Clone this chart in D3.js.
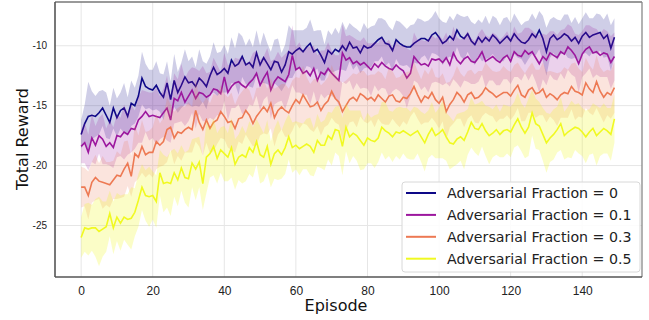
<!DOCTYPE html>
<html>
<head>
<meta charset="utf-8">
<script src="https://cdnjs.cloudflare.com/ajax/libs/d3/7.8.5/d3.min.js"></script>
<style>
  body { margin: 0; background: #fff; }
  svg { display: block; }
</style>
</head>
<body>
<div class="chart"></div>
<script>
// legend labels / fractions
const fractions = ["0", "0.1", "0.3", "0.5"];
const colors = ["#0d0887", "#9c179e", "#ed7953", "#f0f921"];
const xTicks = [0, 20, 40, 60, 80, 100, 120, 140];
const yTicks = [-25, -20, -15, -10];

// mean reward per episode (0..149) for each adversarial fraction
const mean0 = [
  -17.4,-16.5,-15.9,-15.8,-15.9,-15.6,-15.2,-15.8,-16.4,-15.2,
  -16.0,-15.4,-15.2,-15.9,-14.8,-15.0,-14.2,-12.7,-13.4,-13.6,
  -13.7,-13.3,-13.9,-14.3,-13.1,-14.5,-12.9,-13.9,-13.3,-12.6,
  -13.1,-13.0,-13.4,-12.7,-13.0,-13.4,-12.5,-11.8,-12.4,-12.2,
  -11.9,-12.3,-11.2,-11.7,-11.5,-10.9,-11.6,-11.4,-11.8,-10.6,
  -11.6,-11.0,-11.5,-12.0,-11.3,-11.4,-12.2,-11.6,-10.5,-10.7,
  -10.4,-10.2,-10.5,-10.1,-9.8,-10.5,-10.3,-10.8,-11.4,-10.4,
  -10.7,-10.3,-10.5,-10.0,-10.4,-9.7,-10.2,-10.1,-10.6,-10.0,
  -10.2,-10.1,-9.8,-9.5,-9.3,-9.8,-9.9,-10.4,-9.5,-9.8,
  -10.0,-10.1,-10.1,-9.8,-9.6,-9.4,-9.4,-9.6,-9.1,-8.9,
  -9.3,-9.8,-9.6,-9.2,-9.5,-8.7,-9.2,-9.4,-9.0,-9.6,
  -9.9,-9.3,-9.7,-9.3,-9.6,-9.1,-9.4,-9.8,-9.5,-9.2,
  -9.6,-9.0,-9.4,-9.7,-9.8,-9.5,-9.0,-9.3,-8.7,-9.4,
  -10.5,-9.4,-9.1,-9.5,-9.3,-9.0,-9.2,-9.6,-9.3,-9.8,
  -9.2,-8.9,-9.3,-9.1,-9.0,-8.9,-9.4,-9.1,-10.2,-9.3
];
const mean1 = [
  -18.4,-18.1,-18.9,-17.7,-18.3,-17.5,-17.8,-18.4,-18.1,-18.5,
  -17.5,-17.6,-17.2,-17.4,-16.9,-17.0,-16.2,-15.9,-15.5,-15.9,
  -15.8,-15.9,-16.0,-15.6,-15.2,-16.2,-14.4,-14.6,-13.9,-14.7,
  -14.2,-13.7,-14.4,-13.9,-14.0,-14.3,-14.1,-13.6,-13.7,-14.0,
  -12.6,-13.9,-13.4,-13.1,-13.0,-13.3,-13.5,-13.1,-12.8,-12.3,
  -13.3,-12.7,-12.2,-13.7,-13.0,-12.6,-12.8,-13.0,-12.4,-10.8,
  -12.0,-11.8,-12.3,-12.1,-12.5,-11.9,-12.9,-12.2,-12.4,-11.9,
  -12.3,-12.6,-12.9,-10.6,-11.2,-11.0,-11.5,-11.3,-11.6,-11.4,
  -11.7,-12.0,-11.5,-11.8,-11.4,-11.7,-11.9,-12.0,-11.6,-11.9,
  -12.1,-12.7,-12.3,-10.9,-11.3,-11.6,-11.5,-11.7,-11.1,-11.2,
  -11.1,-11.4,-11.0,-11.6,-10.6,-11.2,-11.5,-11.1,-10.9,-11.3,
  -11.4,-11.0,-10.5,-11.3,-11.1,-10.9,-11.2,-11.4,-11.0,-10.8,
  -11.3,-10.5,-10.8,-10.9,-10.4,-10.7,-10.5,-11.0,-11.5,-10.9,
  -11.2,-10.6,-10.8,-11.0,-10.5,-10.7,-10.1,-10.4,-10.8,-11.5,
  -10.7,-10.3,-10.1,-10.6,-10.5,-10.8,-10.6,-10.7,-11.4,-10.9
];
const mean3 = [
  -21.8,-21.8,-22.5,-21.4,-21.0,-21.3,-21.4,-21.5,-21.6,-21.2,
  -20.8,-20.9,-20.3,-19.8,-20.9,-19.0,-19.3,-18.4,-19.1,-18.9,
  -18.9,-18.0,-18.3,-18.0,-17.0,-16.8,-17.7,-17.2,-17.3,-17.0,
  -16.8,-17.0,-15.4,-16.4,-17.0,-16.2,-16.9,-16.4,-16.2,-15.5,
  -15.9,-16.4,-16.3,-16.9,-16.1,-16.0,-15.4,-15.8,-16.5,-15.9,
  -15.5,-15.1,-15.5,-14.8,-16.0,-15.4,-15.1,-15.4,-15.6,-15.0,
  -14.5,-14.8,-14.1,-14.6,-15.1,-15.0,-14.7,-15.4,-14.9,-14.6,
  -13.8,-14.4,-14.7,-15.5,-15.0,-14.5,-14.3,-14.6,-14.0,-14.2,
  -14.5,-14.3,-14.6,-14.1,-14.4,-14.7,-14.2,-14.1,-14.6,-14.7,
  -14.3,-14.4,-14.0,-13.4,-14.1,-14.7,-14.2,-14.4,-13.9,-14.5,
  -14.8,-14.3,-15.5,-14.9,-14.5,-13.9,-14.2,-14.7,-14.1,-13.9,
  -14.4,-14.3,-14.0,-13.5,-13.8,-14.0,-14.3,-14.1,-13.9,-13.9,
  -14.2,-13.7,-13.3,-14.1,-14.3,-13.7,-13.5,-14.0,-13.9,-13.6,
  -14.3,-14.0,-14.2,-14.5,-14.1,-13.9,-14.0,-13.4,-13.8,-13.9,
  -14.1,-13.1,-13.6,-13.9,-13.0,-13.8,-14.3,-13.9,-14.1,-13.5
];
const mean5 = [
  -26.0,-25.2,-25.3,-25.2,-25.2,-25.5,-25.3,-25.1,-24.0,-25.2,
  -24.3,-24.8,-24.3,-24.5,-24.4,-23.9,-22.9,-21.8,-22.5,-22.6,
  -22.5,-23.0,-20.6,-21.5,-21.4,-21.5,-20.6,-21.2,-20.2,-21.0,
  -21.1,-19.8,-20.3,-19.7,-21.5,-19.3,-19.0,-18.4,-19.4,-18.7,
  -19.0,-19.3,-18.5,-19.9,-19.3,-19.1,-19.3,-18.5,-18.9,-18.0,
  -19.1,-19.3,-18.4,-19.9,-19.0,-18.7,-19.1,-18.5,-17.6,-18.5,
  -18.3,-18.6,-18.4,-18.2,-18.4,-18.9,-17.9,-18.3,-18.3,-17.5,
  -17.8,-17.0,-17.1,-18.4,-16.8,-17.6,-17.3,-17.5,-17.9,-18.3,
  -17.7,-17.9,-18.0,-17.7,-16.8,-17.1,-17.3,-17.6,-17.2,-17.3,
  -17.1,-17.3,-17.5,-17.3,-17.1,-17.6,-18.1,-17.4,-16.9,-17.5,
  -17.3,-17.0,-17.6,-18.1,-18.2,-17.8,-17.6,-17.9,-17.2,-16.4,
  -16.9,-17.0,-16.5,-17.1,-17.5,-17.3,-17.0,-17.4,-17.1,-17.0,
  -17.2,-16.6,-16.1,-16.8,-17.3,-16.8,-15.6,-16.5,-16.7,-17.4,
  -18.1,-17.7,-17.4,-17.0,-16.5,-17.5,-17.2,-17.0,-16.8,-16.9,
  -17.2,-17.6,-17.2,-16.9,-17.5,-17.2,-16.9,-17.1,-17.4,-16.1
];

// spread (std) per episode, shaded as mean +/- std
const std0 = [
  1.2,1.6,2.9,2.0,1.7,1.8,1.5,1.9,1.4,1.7, 1.6,1.5,2.1,1.6,1.9,1.5,1.7,2.2,1.9,1.6,
  1.7,2.0,1.6,1.9,1.8,1.5,2.2,1.7,1.9,2.3, 1.8,2.1,1.6,2.4,1.7,1.9,1.6,2.1,1.8,1.7,
  2.0,1.6,1.9,1.5,2.6,1.7,1.6,2.0,1.7,1.9, 1.6,2.1,1.7,1.5,1.8,2.0,1.6,1.7,2.2,2.0,
  1.7,1.5,1.8,1.6,2.0,1.7,1.6,2.1,1.5,1.7, 1.6,1.8,1.5,2.0,1.7,1.6,1.8,1.5,1.7,1.9,
  1.6,1.7,1.5,1.8,1.6,1.9,1.5,1.7,1.6,1.8, 1.7,1.5,1.8,1.6,1.9,1.6,1.4,1.7,1.5,1.8,
  1.6,1.8,1.5,1.7,1.6,1.4,1.7,1.8,1.5,1.6, 1.7,1.5,1.6,1.8,1.4,1.6,1.7,1.5,1.8,1.6,
  1.5,1.7,1.6,1.4,1.8,1.6,1.7,1.5,1.6,1.9, 2.0,1.6,1.5,1.7,1.4,1.6,1.8,1.5,1.7,1.6,
  1.5,1.7,1.6,1.4,1.7,1.5,1.6,1.8,1.9,1.6
];
const std1 = [
  1.4,1.7,1.5,2.0,1.6,1.5,2.1,1.5,1.9,1.7, 1.8,1.6,2.3,1.7,2.0,1.6,1.9,2.2,1.7,2.0,
  1.9,2.4,1.8,2.0,2.7,1.9,2.1,1.8,2.4,2.0, 2.1,1.9,2.5,1.8,2.3,2.0,1.9,2.6,2.1,1.8,
  2.0,2.3,1.8,2.1,1.9,2.4,2.0,1.8,2.2,1.9, 2.1,1.8,2.0,2.4,1.9,2.1,1.8,2.3,2.0,2.5,
  1.9,2.1,1.8,2.0,2.4,1.9,2.1,1.8,2.0,2.2, 1.9,1.8,2.1,2.4,2.0,1.9,2.2,1.8,2.0,2.1,
  1.9,2.2,1.8,2.0,2.1,1.9,2.4,1.8,2.0,1.9, 2.1,2.5,1.9,2.0,1.8,2.1,1.9,2.2,2.0,1.8,
  2.0,1.9,2.1,1.8,2.2,1.9,2.0,1.8,2.1,1.9, 1.8,2.0,1.9,2.2,1.8,2.0,2.1,1.9,1.8,2.0,
  1.9,2.1,1.8,2.0,1.9,2.2,1.8,2.0,2.4,1.9, 2.1,1.8,2.0,1.9,1.8,2.1,1.9,2.0,1.8,2.4,
  1.9,2.0,1.8,2.1,1.9,1.8,2.0,1.9,2.2,2.0
];
const std3 = [
  1.7,1.6,2.0,1.7,1.9,1.5,2.2,1.8,1.9,1.6, 2.0,1.8,2.3,1.9,1.7,2.4,1.8,2.2,1.9,1.8,
  2.1,2.3,1.8,2.0,2.7,1.9,2.2,2.0,2.3,1.9, 2.1,1.9,2.6,2.0,2.2,1.9,2.1,2.4,2.0,2.2,
  1.9,2.1,2.4,2.0,1.9,2.2,2.0,2.1,1.9,2.4, 2.0,2.2,1.9,2.1,2.4,2.0,1.9,2.2,2.0,2.1,
  1.9,2.1,2.4,2.0,1.9,2.2,2.0,2.1,1.9,2.0, 2.2,2.0,1.9,2.4,2.1,1.9,2.0,2.2,1.9,2.1,
  2.0,1.9,2.2,2.0,2.1,1.9,2.4,2.0,1.9,2.1, 2.0,2.2,1.9,2.1,2.0,1.9,2.2,2.0,2.1,1.9,
  2.1,2.0,2.4,1.9,2.0,2.2,1.9,2.1,2.0,1.9, 2.0,2.2,1.9,2.1,2.0,1.9,2.1,2.0,2.2,1.9,
  2.0,2.1,1.9,2.2,2.0,1.9,2.1,2.0,1.9,2.2, 2.1,1.9,2.0,2.2,1.9,2.1,2.0,1.9,2.4,2.0,
  1.9,2.1,2.0,1.9,2.2,2.0,2.1,1.9,2.0,2.1
];
const std5 = [
  1.7,2.0,2.2,1.9,2.4,2.9,2.3,2.1,1.9,2.2, 2.0,2.3,1.9,2.1,2.6,2.0,2.2,1.9,2.1,2.5,
  2.0,2.2,1.9,2.4,2.1,2.7,2.0,2.2,1.9,2.1, 2.4,2.0,2.6,2.1,2.2,3.0,2.0,2.4,2.1,1.9,
  2.3,2.0,2.5,2.1,1.9,2.4,2.0,2.2,2.1,1.9, 2.4,2.0,2.2,1.9,2.1,2.5,2.0,2.2,1.9,2.1,
  2.0,2.2,1.9,2.1,2.4,2.0,2.2,1.9,2.1,2.0, 2.2,1.9,2.1,2.4,2.0,2.2,1.9,2.1,2.5,2.0,
  2.1,1.9,2.2,2.0,2.1,2.4,1.9,2.1,2.0,2.2, 1.9,2.1,2.0,2.2,1.9,2.1,2.4,2.0,2.2,1.9,
  2.1,2.4,2.0,2.2,1.9,2.1,2.0,2.4,1.9,2.1, 2.0,2.2,1.9,2.1,2.4,2.0,2.1,1.9,2.2,2.0,
  2.1,1.9,2.2,2.0,2.1,2.4,1.9,2.1,2.0,2.2, 2.5,2.0,2.1,1.9,2.2,2.0,2.1,2.4,1.9,2.1,
  2.0,2.2,1.9,2.1,2.5,2.0,2.1,1.9,2.2,2.0
];

const means = [mean0, mean1, mean3, mean5];
const stds = [std0, std1, std3, std5];

const W = 649, H = 320;
const plot = {left: 55, right: 642, top: 2, bottom: 277};

const svg = d3.select(".chart").append("svg")
  .attr("width", W)
  .attr("height", H);

const x = d3.scaleLinear().domain([-7.3, 156.7]).range([plot.left, plot.right]);
const y = d3.scaleLinear().domain([-29.3, -6.35]).range([plot.bottom, plot.top]);

// gridlines
svg.append("g").selectAll("line").data(xTicks).enter().append("line")
  .attr("x1", d => x(d)).attr("x2", d => x(d))
  .attr("y1", plot.top).attr("y2", plot.bottom)
  .attr("stroke", "#e6e6e6").attr("stroke-width", 1);
svg.append("g").selectAll("line").data(yTicks).enter().append("line")
  .attr("x1", plot.left).attr("x2", plot.right)
  .attr("y1", d => y(d)).attr("y2", d => y(d))
  .attr("stroke", "#e6e6e6").attr("stroke-width", 1);

svg.append("clipPath").attr("id", "clip")
  .append("rect")
  .attr("x", plot.left).attr("y", plot.top)
  .attr("width", plot.right - plot.left).attr("height", plot.bottom - plot.top);

const area = d3.area()
  .x((d, i) => x(i))
  .y0(d => y(d[0] - d[1]))
  .y1(d => y(d[0] + d[1]));
const line = d3.line()
  .x((d, i) => x(i))
  .y(d => y(d));

const series = svg.append("g").attr("clip-path", "url(#clip)");
means.forEach(function(m, k) {
  let band = m.map((v, i) => [v, stds[k][i]]);
  series.append("path")
    .attr("d", area(band))
    .attr("fill", colors[k])
    .attr("fill-opacity", k == 3 ? 0.25 : 0.2);
  series.append("path")
    .attr("d", line(m))
    .attr("fill", "none")
    .attr("stroke", colors[k])
    .attr("stroke-width", 1.6);
});

// axes
const xAxis = svg.append("g")
  .attr("transform", "translate(0," + plot.bottom + ")")
  .call(d3.axisBottom(x).tickValues(xTicks).tickSize(0).tickPadding(9));
const yAxis = svg.append("g")
  .attr("transform", "translate(" + plot.left + ",0)")
  .call(d3.axisLeft(y).tickValues(yTicks).tickSize(0).tickPadding(8)
    .tickFormat(d => String(d)));
xAxis.select(".domain").remove();
yAxis.select(".domain").remove();
xAxis.selectAll("text")
  .attr("font-family", "Liberation Sans, Arial, sans-serif")
  .attr("font-size", 12).attr("fill", "#222");
yAxis.selectAll("text")
  .attr("font-family", "Liberation Sans, Arial, sans-serif")
  .attr("font-size", 10).attr("fill", "#222");

// frame
svg.append("line").attr("x1", plot.left).attr("x2", plot.right)
  .attr("y1", plot.top).attr("y2", plot.top)
  .attr("stroke", "#777").attr("stroke-width", 1.3);
svg.append("line").attr("x1", plot.right).attr("x2", plot.right)
  .attr("y1", plot.top).attr("y2", plot.bottom)
  .attr("stroke", "#888").attr("stroke-width", 1.3);
svg.append("line").attr("x1", plot.left).attr("x2", plot.left)
  .attr("y1", plot.top).attr("y2", plot.bottom)
  .attr("stroke", "#555").attr("stroke-width", 1.6);
svg.append("line").attr("x1", plot.left).attr("x2", plot.right)
  .attr("y1", plot.bottom).attr("y2", plot.bottom)
  .attr("stroke", "#555").attr("stroke-width", 1.6);

// axis titles
svg.append("text")
  .attr("x", 336).attr("y", 311)
  .attr("text-anchor", "middle")
  .attr("font-family", "DejaVu Sans, sans-serif")
  .attr("font-size", 16).attr("fill", "#111")
  .text("Episode");
svg.append("text")
  .attr("transform", "translate(28,139) rotate(-90)")
  .attr("text-anchor", "middle")
  .attr("font-family", "DejaVu Sans, sans-serif")
  .attr("font-size", 16).attr("fill", "#111")
  .text("Total Reward");

// legend
const legend = svg.append("g").attr("transform", "translate(402,182)");
legend.append("rect")
  .attr("width", 238).attr("height", 90)
  .attr("rx", 3)
  .attr("fill", "#fff").attr("fill-opacity", 0.85)
  .attr("stroke", "#d8d8d8");
const rows = legend.selectAll(".row").data(fractions).enter().append("g")
  .attr("class", "row")
  .attr("transform", (d, i) => "translate(0," + (11 + i * 21.9) + ")");
rows.append("line")
  .attr("x1", 4).attr("x2", 34)
  .attr("stroke", (d, i) => colors[i])
  .attr("stroke-width", 2);
rows.append("text")
  .attr("x", 45).attr("dy", "0.35em")
  .attr("font-family", "DejaVu Sans, sans-serif")
  .attr("font-size", 14.2).attr("fill", "#222")
  .text(d => "Adversarial Fraction = " + d);
</script>
</body>
</html>
